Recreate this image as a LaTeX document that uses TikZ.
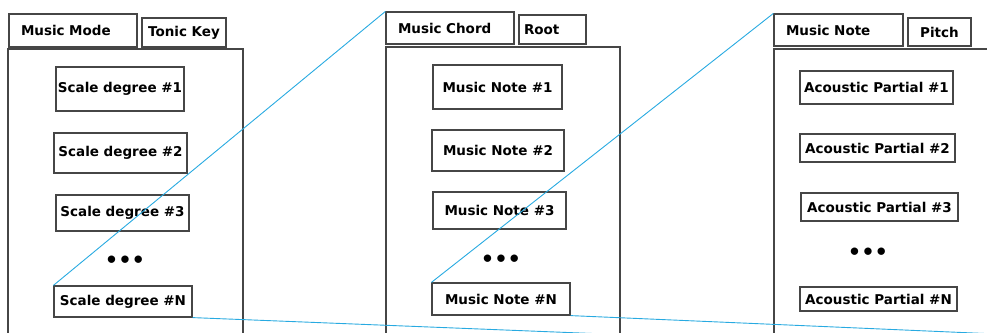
\documentclass[tikz,border=0pt]{standalone}
\usepackage{fontspec}
\setmainfont{DejaVu Sans}
\definecolor{edge}{RGB}{70,70,70}
\definecolor{zoomblue}{RGB}{40,170,225}

\begin{document}
\begin{tikzpicture}[x=1pt, y=-1pt,
  frame/.style={rectangle, draw=edge, line width=1.2pt, inner sep=0pt},
  tab/.style={rectangle, draw=edge, line width=1.2pt, inner sep=0pt, font=\fontsize{13.5}{15}\selectfont\bfseries},
  item/.style={rectangle, draw=edge, line width=1.2pt, inner sep=0pt, font=\fontsize{13.5}{15}\selectfont\bfseries},
  dots/.style={inner sep=0pt, font=\fontsize{21}{21}\selectfont\bfseries},
  zoomline/.style={draw=zoomblue, line width=0.9pt}]

\useasboundingbox (0,0) rectangle (987,332);
\clip (0,0) rectangle (987,332);

\node (mode) at (125.5,191.5) [frame, minimum width=235pt, minimum height=285pt]{};
\node (modetab) at (73,30.5) [tab, minimum width=128pt, minimum height=33pt, text width=104pt]{Music Mode};
\node (keytab) at (184,32.5) [tab, minimum width=84pt, minimum height=29pt]{Tonic Key};

\node (s1) at (120,89) [item, minimum width=128pt, minimum height=44pt]{Scale degree \#1};
\node (s2) at (120.5,153) [item, minimum width=133pt, minimum height=40pt]{Scale degree \#2};
\node (s3) at (122.5,213) [item, minimum width=133pt, minimum height=36pt]{Scale degree \#3};
\node (sdots) at (125,262) [dots]{•••};
\node (sN) at (123,301.5) [item, minimum width=138pt, minimum height=31pt]{Scale degree \#N};

\node (chord) at (503,190.5) [frame, minimum width=234pt, minimum height=287pt]{};
\node (chordtab) at (450,28) [tab, minimum width=128pt, minimum height=32pt, text width=104pt]{Music Chord};
\node (roottab) at (552.5,29.5) [tab, minimum width=67pt, minimum height=29pt, text width=57pt]{Root};

\node (n1) at (497.5,87) [item, minimum width=129pt, minimum height=44pt]{Music Note \#1};
\node (n2) at (498,150.5) [item, minimum width=132pt, minimum height=41pt]{Music Note \#2};
\node (n3) at (499.5,210.5) [item, minimum width=133pt, minimum height=37pt]{Music Note \#3};
\node (ndots) at (501,261) [dots]{•••};
\node (nN) at (501,299) [item, minimum width=138pt, minimum height=32pt]{Music Note \#N};

\node (note) at (892,191.5) [frame, minimum width=236pt, minimum height=285pt]{};
\node (notetab) at (838.5,30) [tab, minimum width=129pt, minimum height=32pt, text width=105pt]{Music Note};
\node (pitchtab) at (939.5,32) [tab, minimum width=63pt, minimum height=28pt]{Pitch};

\node (p1) at (876.5,87.5) [item, minimum width=153pt, minimum height=33pt]{Acoustic Partial \#1};
\node (p2) at (877.5,148) [item, minimum width=155pt, minimum height=28pt]{Acoustic Partial \#2};
\node (p3) at (879.5,207) [item, minimum width=157pt, minimum height=28pt]{Acoustic Partial \#3};
\node (pdots) at (868,254) [dots]{•••};
\node (pN) at (878.5,299) [item, minimum width=157pt, minimum height=24pt]{Acoustic Partial \#N};

\draw [zoomline] (sN.north west) to (chordtab.north west);
\draw [zoomline] (sN.south east) to (chord.south east);
\draw [zoomline] (nN.north west) to (notetab.north west);
\draw [zoomline] (nN.south east) to (note.south east);

\end{tikzpicture}
\end{document}
